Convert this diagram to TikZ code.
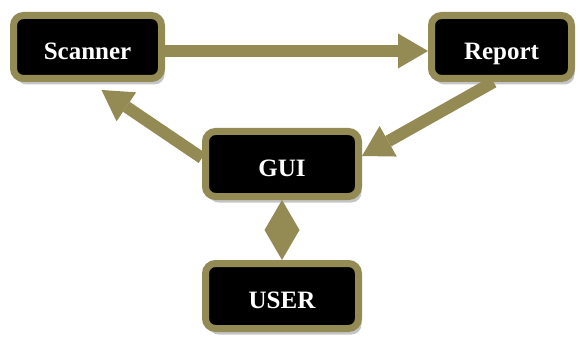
\documentclass[tikz,border=0pt]{standalone}
\usepackage{fontspec}
\setmainfont{Liberation Serif}
\usetikzlibrary{arrows.meta,shadows}
\definecolor{olive}{HTML}{948A54}

\begin{document}
\begin{tikzpicture}[x=1pt, y=-1pt,
    box/.style={draw=olive, fill=black, line width=7pt, rounded corners=10pt,
      minimum height=63pt, text height=27pt, text depth=2pt,
      text=white, font=\fontsize{25}{29}\selectfont\bfseries,
      drop shadow={shadow xshift=3pt, shadow yshift=-6pt, fill=black!45}},
    arr/.style={draw=olive, line width=12pt,
      -{Triangle[length=30pt, width=35pt, line width=0pt]}},
    twoarr/.style={arr,
      {Triangle[length=30pt, width=35pt, line width=0pt]}-{Triangle[length=30pt, width=35pt, line width=0pt]}}]
  \useasboundingbox (0,0) rectangle (580,339);
  % the four blocks
  \node[box, minimum width=148pt] (scanner) at (87.5,47) {Scanner};
  \node[box, minimum width=140pt] (report) at (501.5,47) {Report};
  \node[box, minimum width=153pt, minimum height=65pt] (gui) at (282,164) {GUI};
  \node[box, minimum width=153pt, minimum height=65pt] (user) at (282,296) {USER};
  % the arrows
  \draw[arr] ([yshift=-4pt]scanner.east) -- ([yshift=-4pt]report.west);
  \draw[arr] ([xshift=-8pt]report.south) -- ([yshift=8pt]gui.east);
  \draw[arr] ([yshift=6pt]gui.west) -- ([xshift=14pt, yshift=-8pt]scanner.south);
  \draw[twoarr] (gui.south) -- (user.north);
\end{tikzpicture}
\end{document}
